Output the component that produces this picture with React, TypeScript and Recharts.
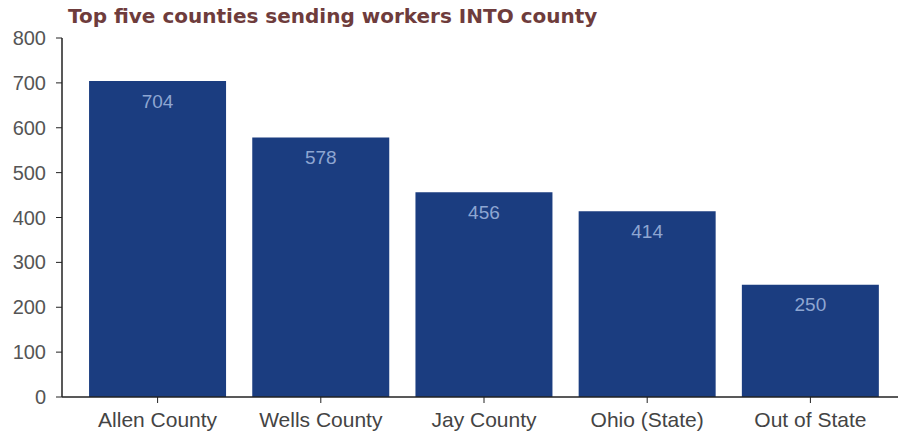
import React from 'react';
import { BarChart, Bar, XAxis, YAxis, LabelList } from 'recharts';

const categories = ['Allen County', 'Wells County', 'Jay County', 'Ohio (State)', 'Out of State'];
const workers = [704, 578, 456, 414, 250];
const yTicks = [0, 100, 200, 300, 400, 500, 600, 700, 800];
const title = 'Top five counties sending workers INTO county';

const data = categories.map((name, i) => ({ name, value: workers[i] }));

const FONT = '"Liberation Sans", Arial, sans-serif';

export default function App() {
  return (
    <div style={{ position: 'absolute', left: 0, top: 0, width: 899, height: 435, background: '#fff' }}>
      <div
        style={{
          position: 'absolute',
          left: 68,
          top: 5,
          fontFamily: '"DejaVu Sans", Verdana, sans-serif',
          fontWeight: 'bold',
          fontSize: 20,
          lineHeight: '23px',
          color: '#6e3c3c',
          whiteSpace: 'nowrap',
        }}
      >
        {title}
      </div>
      <BarChart
        width={899}
        height={435}
        data={data}
        margin={{ top: 38, right: 1, bottom: 6, left: 0 }}
        barCategoryGap="8%"
      >
        <XAxis
          dataKey="name"
          height={32}
          axisLine={{ stroke: '#222', strokeWidth: 1.5 }}
          tickLine={{ stroke: '#222' }}
          tickSize={6}
          tickMargin={9}
          padding={{ left: 14, right: 6 }}
          tick={{ fill: '#444', fontSize: 21, fontFamily: FONT }}
          interval={0}
        />
        <YAxis
          width={62}
          domain={[0, 800]}
          ticks={yTicks}
          interval={0}
          axisLine={{ stroke: '#222', strokeWidth: 1.5 }}
          tickLine={{ stroke: '#222' }}
          tickSize={6}
          tickMargin={10}
          tick={{ fill: '#555', fontSize: 20, fontFamily: FONT }}
        />
        <Bar dataKey="value" fill="#1b3d80" isAnimationActive={false}>
          <LabelList
            dataKey="value"
            position="insideTop"
            offset={13}
            fill="#8ea6d2"
            fontSize={19}
            fontFamily={FONT}
          />
        </Bar>
      </BarChart>
    </div>
  );
}
